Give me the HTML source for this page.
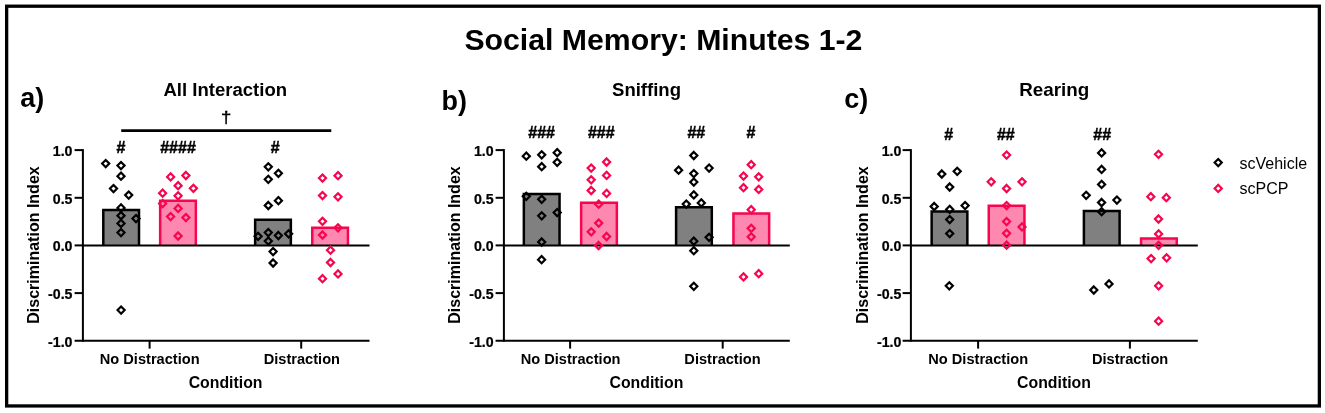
<!DOCTYPE html>
<html><head><meta charset="utf-8"><title>Social Memory: Minutes 1-2</title>
<style>
html,body{margin:0;padding:0;background:#fff;}
body{width:1325px;height:413px;overflow:hidden;}
svg{display:block;will-change:transform;}
.sg{stroke:#000;stroke-width:0.45px;}
.tk{stroke:#000;stroke-width:0.25px;}
text{font-family:"Liberation Sans",sans-serif;fill:#000;}
.b{font-weight:bold;}
</style></head><body>
<svg width="1325" height="413" viewBox="0 0 1325 413">
<rect x="0" y="0" width="1325" height="413" fill="#fff"/>
<g>
<rect x="6.65" y="6.2" width="1312.7" height="399.75" fill="none" stroke="#000" stroke-width="3.3"/>
<text class="b" font-size="30.3" text-anchor="middle" transform="translate(663.40 49.60) scale(0.9980 1)">Social Memory: Minutes 1-2</text>
<g>
<text class="b" font-size="28.2" text-anchor="start" transform="translate(20.30 107.40) scale(0.9560 1)">a)</text>
<text class="b" font-size="18" text-anchor="middle" transform="translate(225.25 95.60) scale(1.0300 1)">All Interaction</text>
<text class="b" font-size="16" text-anchor="middle" transform="translate(39.30 245.00) rotate(-90)">Discrimination Index</text>
<path d="M103.30 245.90V210.05H139.00V245.90" fill="#808080" stroke="#000" stroke-width="2.5" stroke-linejoin="miter"/>
<path d="M160.15 245.90V200.75H195.85V245.90" fill="#FF88B1" stroke="#F5064E" stroke-width="2.5" stroke-linejoin="miter"/>
<path d="M255.15 245.90V219.65H290.85V245.90" fill="#808080" stroke="#000" stroke-width="2.5" stroke-linejoin="miter"/>
<path d="M312.25 245.90V227.75H347.95V245.90" fill="#FF88B1" stroke="#F5064E" stroke-width="2.5" stroke-linejoin="miter"/>
<path d="M82.9 149.1V341.7" stroke="#000" stroke-width="2" fill="none"/>
<path d="M74.6 340.7H369.5" stroke="#000" stroke-width="2" fill="none"/>
<path d="M82.9 245.4H369.5" stroke="#000" stroke-width="2" fill="none"/>
<path d="M74.6 150.1H82.9" stroke="#000" stroke-width="2" fill="none"/>
<text class="b tk" font-size="15.1" text-anchor="end" transform="translate(72.50 155.90) scale(0.9400 1)">1.0</text>
<path d="M74.6 197.8H82.9" stroke="#000" stroke-width="2" fill="none"/>
<text class="b tk" font-size="15.1" text-anchor="end" transform="translate(72.50 203.55) scale(0.9400 1)">0.5</text>
<path d="M74.6 245.4H82.9" stroke="#000" stroke-width="2" fill="none"/>
<text class="b tk" font-size="15.1" text-anchor="end" transform="translate(72.50 251.20) scale(0.9400 1)">0.0</text>
<path d="M74.6 293.1H82.9" stroke="#000" stroke-width="2" fill="none"/>
<text class="b tk" font-size="15.1" text-anchor="end" transform="translate(72.50 298.85) scale(0.9400 1)">-0.5</text>
<text class="b tk" font-size="15.1" text-anchor="end" transform="translate(72.50 346.50) scale(0.9400 1)">-1.0</text>
<path d="M149.6 340.7V348.6" stroke="#000" stroke-width="2" fill="none"/>
<path d="M301.2 340.7V348.6" stroke="#000" stroke-width="2" fill="none"/>
<text class="b" font-size="14" text-anchor="middle" transform="translate(149.70 364.00) scale(1.0450 1)">No Distraction</text>
<text class="b" font-size="14" text-anchor="middle" transform="translate(301.85 364.00) scale(1.0450 1)">Distraction</text>
<text class="b" font-size="16" text-anchor="middle" transform="translate(225.60 388.20) scale(0.9900 1)">Condition</text>
<text class="b sg" font-size="16" text-anchor="middle" transform="translate(121.00 153.30)">#</text>
<text class="b sg" font-size="16" text-anchor="middle" transform="translate(178.00 153.30)">####</text>
<text class="b sg" font-size="16" text-anchor="middle" transform="translate(275.10 153.30)">#</text>
<path d="M105.70 160.00L109.25 163.60L105.70 167.20L102.15 163.60Z" fill="none" stroke="#000" stroke-width="2.2" stroke-linejoin="miter"/>
<path d="M121.00 162.00L124.55 165.60L121.00 169.20L117.45 165.60Z" fill="none" stroke="#000" stroke-width="2.2" stroke-linejoin="miter"/>
<path d="M121.00 172.60L124.55 176.20L121.00 179.80L117.45 176.20Z" fill="none" stroke="#000" stroke-width="2.2" stroke-linejoin="miter"/>
<path d="M113.50 185.00L117.05 188.60L113.50 192.20L109.95 188.60Z" fill="none" stroke="#000" stroke-width="2.2" stroke-linejoin="miter"/>
<path d="M128.70 191.50L132.25 195.10L128.70 198.70L125.15 195.10Z" fill="none" stroke="#000" stroke-width="2.2" stroke-linejoin="miter"/>
<path d="M121.00 204.30L124.55 207.90L121.00 211.50L117.45 207.90Z" fill="none" stroke="#000" stroke-width="2.2" stroke-linejoin="miter"/>
<path d="M121.00 212.10L124.55 215.70L121.00 219.30L117.45 215.70Z" fill="none" stroke="#000" stroke-width="2.2" stroke-linejoin="miter"/>
<path d="M136.00 215.00L139.55 218.60L136.00 222.20L132.45 218.60Z" fill="none" stroke="#000" stroke-width="2.2" stroke-linejoin="miter"/>
<path d="M121.00 219.80L124.55 223.40L121.00 227.00L117.45 223.40Z" fill="none" stroke="#000" stroke-width="2.2" stroke-linejoin="miter"/>
<path d="M121.00 229.00L124.55 232.60L121.00 236.20L117.45 232.60Z" fill="none" stroke="#000" stroke-width="2.2" stroke-linejoin="miter"/>
<path d="M121.10 306.50L124.65 310.10L121.10 313.70L117.55 310.10Z" fill="none" stroke="#000" stroke-width="2.2" stroke-linejoin="miter"/>
<path d="M170.60 173.30L174.15 176.90L170.60 180.50L167.05 176.90Z" fill="none" stroke="#F5064E" stroke-width="2.2" stroke-linejoin="miter"/>
<path d="M185.90 171.90L189.45 175.50L185.90 179.10L182.35 175.50Z" fill="none" stroke="#F5064E" stroke-width="2.2" stroke-linejoin="miter"/>
<path d="M178.10 182.10L181.65 185.70L178.10 189.30L174.55 185.70Z" fill="none" stroke="#F5064E" stroke-width="2.2" stroke-linejoin="miter"/>
<path d="M193.40 184.70L196.95 188.30L193.40 191.90L189.85 188.30Z" fill="none" stroke="#F5064E" stroke-width="2.2" stroke-linejoin="miter"/>
<path d="M162.60 189.60L166.15 193.20L162.60 196.80L159.05 193.20Z" fill="none" stroke="#F5064E" stroke-width="2.2" stroke-linejoin="miter"/>
<path d="M178.10 192.20L181.65 195.80L178.10 199.40L174.55 195.80Z" fill="none" stroke="#F5064E" stroke-width="2.2" stroke-linejoin="miter"/>
<path d="M162.60 200.00L166.15 203.60L162.60 207.20L159.05 203.60Z" fill="none" stroke="#F5064E" stroke-width="2.2" stroke-linejoin="miter"/>
<path d="M178.10 204.80L181.65 208.40L178.10 212.00L174.55 208.40Z" fill="none" stroke="#F5064E" stroke-width="2.2" stroke-linejoin="miter"/>
<path d="M170.60 213.00L174.15 216.60L170.60 220.20L167.05 216.60Z" fill="none" stroke="#F5064E" stroke-width="2.2" stroke-linejoin="miter"/>
<path d="M185.90 214.00L189.45 217.60L185.90 221.20L182.35 217.60Z" fill="none" stroke="#F5064E" stroke-width="2.2" stroke-linejoin="miter"/>
<path d="M178.10 232.40L181.65 236.00L178.10 239.60L174.55 236.00Z" fill="none" stroke="#F5064E" stroke-width="2.2" stroke-linejoin="miter"/>
<path d="M268.30 163.20L271.85 166.80L268.30 170.40L264.75 166.80Z" fill="none" stroke="#000" stroke-width="2.2" stroke-linejoin="miter"/>
<path d="M278.40 169.70L281.95 173.30L278.40 176.90L274.85 173.30Z" fill="none" stroke="#000" stroke-width="2.2" stroke-linejoin="miter"/>
<path d="M268.30 175.70L271.85 179.30L268.30 182.90L264.75 179.30Z" fill="none" stroke="#000" stroke-width="2.2" stroke-linejoin="miter"/>
<path d="M278.40 197.10L281.95 200.70L278.40 204.30L274.85 200.70Z" fill="none" stroke="#000" stroke-width="2.2" stroke-linejoin="miter"/>
<path d="M268.30 201.90L271.85 205.50L268.30 209.10L264.75 205.50Z" fill="none" stroke="#000" stroke-width="2.2" stroke-linejoin="miter"/>
<path d="M268.30 229.00L271.85 232.60L268.30 236.20L264.75 232.60Z" fill="none" stroke="#000" stroke-width="2.2" stroke-linejoin="miter"/>
<path d="M258.10 232.70L261.65 236.30L258.10 239.90L254.55 236.30Z" fill="none" stroke="#000" stroke-width="2.2" stroke-linejoin="miter"/>
<path d="M278.40 231.90L281.95 235.50L278.40 239.10L274.85 235.50Z" fill="none" stroke="#000" stroke-width="2.2" stroke-linejoin="miter"/>
<path d="M288.60 230.20L292.15 233.80L288.60 237.40L285.05 233.80Z" fill="none" stroke="#000" stroke-width="2.2" stroke-linejoin="miter"/>
<path d="M268.30 237.50L271.85 241.10L268.30 244.70L264.75 241.10Z" fill="none" stroke="#000" stroke-width="2.2" stroke-linejoin="miter"/>
<path d="M273.10 248.00L276.65 251.60L273.10 255.20L269.55 251.60Z" fill="none" stroke="#000" stroke-width="2.2" stroke-linejoin="miter"/>
<path d="M273.10 259.40L276.65 263.00L273.10 266.60L269.55 263.00Z" fill="none" stroke="#000" stroke-width="2.2" stroke-linejoin="miter"/>
<path d="M322.50 174.50L326.05 178.10L322.50 181.70L318.95 178.10Z" fill="none" stroke="#F5064E" stroke-width="2.2" stroke-linejoin="miter"/>
<path d="M338.00 172.10L341.55 175.70L338.00 179.30L334.45 175.70Z" fill="none" stroke="#F5064E" stroke-width="2.2" stroke-linejoin="miter"/>
<path d="M322.50 192.00L326.05 195.60L322.50 199.20L318.95 195.60Z" fill="none" stroke="#F5064E" stroke-width="2.2" stroke-linejoin="miter"/>
<path d="M338.00 193.20L341.55 196.80L338.00 200.40L334.45 196.80Z" fill="none" stroke="#F5064E" stroke-width="2.2" stroke-linejoin="miter"/>
<path d="M322.50 217.70L326.05 221.30L322.50 224.90L318.95 221.30Z" fill="none" stroke="#F5064E" stroke-width="2.2" stroke-linejoin="miter"/>
<path d="M338.00 224.20L341.55 227.80L338.00 231.40L334.45 227.80Z" fill="none" stroke="#F5064E" stroke-width="2.2" stroke-linejoin="miter"/>
<path d="M322.50 231.40L326.05 235.00L322.50 238.60L318.95 235.00Z" fill="none" stroke="#F5064E" stroke-width="2.2" stroke-linejoin="miter"/>
<path d="M330.50 246.60L334.05 250.20L330.50 253.80L326.95 250.20Z" fill="none" stroke="#F5064E" stroke-width="2.2" stroke-linejoin="miter"/>
<path d="M330.50 258.90L334.05 262.50L330.50 266.10L326.95 262.50Z" fill="none" stroke="#F5064E" stroke-width="2.2" stroke-linejoin="miter"/>
<path d="M338.00 270.30L341.55 273.90L338.00 277.50L334.45 273.90Z" fill="none" stroke="#F5064E" stroke-width="2.2" stroke-linejoin="miter"/>
<path d="M322.50 275.10L326.05 278.70L322.50 282.30L318.95 278.70Z" fill="none" stroke="#F5064E" stroke-width="2.2" stroke-linejoin="miter"/>
</g>
<g>
<text class="b" font-size="28.2" text-anchor="start" transform="translate(441.60 109.50) scale(0.9560 1)">b)</text>
<text class="b" font-size="18" text-anchor="middle" transform="translate(646.50 95.60) scale(1.0300 1)">Sniffing</text>
<text class="b" font-size="16" text-anchor="middle" transform="translate(459.60 245.00) rotate(-90)">Discrimination Index</text>
<path d="M523.85 245.90V193.95H559.55V245.90" fill="#808080" stroke="#000" stroke-width="2.5" stroke-linejoin="miter"/>
<path d="M581.15 245.90V202.75H616.85V245.90" fill="#FF88B1" stroke="#F5064E" stroke-width="2.5" stroke-linejoin="miter"/>
<path d="M676.10 245.90V207.15H711.80V245.90" fill="#808080" stroke="#000" stroke-width="2.5" stroke-linejoin="miter"/>
<path d="M733.45 245.90V213.55H769.15V245.90" fill="#FF88B1" stroke="#F5064E" stroke-width="2.5" stroke-linejoin="miter"/>
<path d="M503.9 149.1V341.7" stroke="#000" stroke-width="2" fill="none"/>
<path d="M495.6 340.7H789.8" stroke="#000" stroke-width="2" fill="none"/>
<path d="M503.9 245.4H789.8" stroke="#000" stroke-width="2" fill="none"/>
<path d="M495.6 150.1H503.9" stroke="#000" stroke-width="2" fill="none"/>
<text class="b tk" font-size="15.1" text-anchor="end" transform="translate(493.70 155.90) scale(0.9400 1)">1.0</text>
<path d="M495.6 197.8H503.9" stroke="#000" stroke-width="2" fill="none"/>
<text class="b tk" font-size="15.1" text-anchor="end" transform="translate(493.70 203.55) scale(0.9400 1)">0.5</text>
<path d="M495.6 245.4H503.9" stroke="#000" stroke-width="2" fill="none"/>
<text class="b tk" font-size="15.1" text-anchor="end" transform="translate(493.70 251.20) scale(0.9400 1)">0.0</text>
<path d="M495.6 293.1H503.9" stroke="#000" stroke-width="2" fill="none"/>
<text class="b tk" font-size="15.1" text-anchor="end" transform="translate(493.70 298.85) scale(0.9400 1)">-0.5</text>
<text class="b tk" font-size="15.1" text-anchor="end" transform="translate(493.70 346.50) scale(0.9400 1)">-1.0</text>
<path d="M570.1 340.7V348.6" stroke="#000" stroke-width="2" fill="none"/>
<path d="M722.7 340.7V348.6" stroke="#000" stroke-width="2" fill="none"/>
<text class="b" font-size="14" text-anchor="middle" transform="translate(570.60 364.00) scale(1.0450 1)">No Distraction</text>
<text class="b" font-size="14" text-anchor="middle" transform="translate(722.50 364.00) scale(1.0450 1)">Distraction</text>
<text class="b" font-size="16" text-anchor="middle" transform="translate(646.40 388.20) scale(0.9900 1)">Condition</text>
<text class="b sg" font-size="16" text-anchor="middle" transform="translate(541.60 138.40)">###</text>
<text class="b sg" font-size="16" text-anchor="middle" transform="translate(601.30 138.40)">###</text>
<text class="b sg" font-size="16" text-anchor="middle" transform="translate(696.30 138.40)">##</text>
<text class="b sg" font-size="16" text-anchor="middle" transform="translate(751.00 138.40)">#</text>
<path d="M526.30 152.60L529.85 156.20L526.30 159.80L522.75 156.20Z" fill="none" stroke="#000" stroke-width="2.2" stroke-linejoin="miter"/>
<path d="M541.70 151.20L545.25 154.80L541.70 158.40L538.15 154.80Z" fill="none" stroke="#000" stroke-width="2.2" stroke-linejoin="miter"/>
<path d="M557.20 149.10L560.75 152.70L557.20 156.30L553.65 152.70Z" fill="none" stroke="#000" stroke-width="2.2" stroke-linejoin="miter"/>
<path d="M557.20 158.70L560.75 162.30L557.20 165.90L553.65 162.30Z" fill="none" stroke="#000" stroke-width="2.2" stroke-linejoin="miter"/>
<path d="M541.70 163.10L545.25 166.70L541.70 170.30L538.15 166.70Z" fill="none" stroke="#000" stroke-width="2.2" stroke-linejoin="miter"/>
<path d="M526.30 192.70L529.85 196.30L526.30 199.90L522.75 196.30Z" fill="none" stroke="#000" stroke-width="2.2" stroke-linejoin="miter"/>
<path d="M541.70 195.70L545.25 199.30L541.70 202.90L538.15 199.30Z" fill="none" stroke="#000" stroke-width="2.2" stroke-linejoin="miter"/>
<path d="M557.20 209.00L560.75 212.60L557.20 216.20L553.65 212.60Z" fill="none" stroke="#000" stroke-width="2.2" stroke-linejoin="miter"/>
<path d="M541.70 212.20L545.25 215.80L541.70 219.40L538.15 215.80Z" fill="none" stroke="#000" stroke-width="2.2" stroke-linejoin="miter"/>
<path d="M541.70 238.40L545.25 242.00L541.70 245.60L538.15 242.00Z" fill="none" stroke="#000" stroke-width="2.2" stroke-linejoin="miter"/>
<path d="M541.60 256.10L545.15 259.70L541.60 263.30L538.05 259.70Z" fill="none" stroke="#000" stroke-width="2.2" stroke-linejoin="miter"/>
<path d="M606.60 158.40L610.15 162.00L606.60 165.60L603.05 162.00Z" fill="none" stroke="#F5064E" stroke-width="2.2" stroke-linejoin="miter"/>
<path d="M591.20 164.50L594.75 168.10L591.20 171.70L587.65 168.10Z" fill="none" stroke="#F5064E" stroke-width="2.2" stroke-linejoin="miter"/>
<path d="M606.60 171.80L610.15 175.40L606.60 179.00L603.05 175.40Z" fill="none" stroke="#F5064E" stroke-width="2.2" stroke-linejoin="miter"/>
<path d="M591.20 176.20L594.75 179.80L591.20 183.40L587.65 179.80Z" fill="none" stroke="#F5064E" stroke-width="2.2" stroke-linejoin="miter"/>
<path d="M591.20 186.90L594.75 190.50L591.20 194.10L587.65 190.50Z" fill="none" stroke="#F5064E" stroke-width="2.2" stroke-linejoin="miter"/>
<path d="M606.60 189.80L610.15 193.40L606.60 197.00L603.05 193.40Z" fill="none" stroke="#F5064E" stroke-width="2.2" stroke-linejoin="miter"/>
<path d="M598.70 200.60L602.25 204.20L598.70 207.80L595.15 204.20Z" fill="none" stroke="#F5064E" stroke-width="2.2" stroke-linejoin="miter"/>
<path d="M598.70 219.50L602.25 223.10L598.70 226.70L595.15 223.10Z" fill="none" stroke="#F5064E" stroke-width="2.2" stroke-linejoin="miter"/>
<path d="M591.20 228.20L594.75 231.80L591.20 235.40L587.65 231.80Z" fill="none" stroke="#F5064E" stroke-width="2.2" stroke-linejoin="miter"/>
<path d="M606.60 232.90L610.15 236.50L606.60 240.10L603.05 236.50Z" fill="none" stroke="#F5064E" stroke-width="2.2" stroke-linejoin="miter"/>
<path d="M598.60 241.90L602.15 245.50L598.60 249.10L595.05 245.50Z" fill="none" stroke="#F5064E" stroke-width="2.2" stroke-linejoin="miter"/>
<path d="M693.80 151.90L697.35 155.50L693.80 159.10L690.25 155.50Z" fill="none" stroke="#000" stroke-width="2.2" stroke-linejoin="miter"/>
<path d="M678.60 166.60L682.15 170.20L678.60 173.80L675.05 170.20Z" fill="none" stroke="#000" stroke-width="2.2" stroke-linejoin="miter"/>
<path d="M709.10 164.50L712.65 168.10L709.10 171.70L705.55 168.10Z" fill="none" stroke="#000" stroke-width="2.2" stroke-linejoin="miter"/>
<path d="M693.80 170.00L697.35 173.60L693.80 177.20L690.25 173.60Z" fill="none" stroke="#000" stroke-width="2.2" stroke-linejoin="miter"/>
<path d="M693.80 178.50L697.35 182.10L693.80 185.70L690.25 182.10Z" fill="none" stroke="#000" stroke-width="2.2" stroke-linejoin="miter"/>
<path d="M693.80 191.30L697.35 194.90L693.80 198.50L690.25 194.90Z" fill="none" stroke="#000" stroke-width="2.2" stroke-linejoin="miter"/>
<path d="M686.30 200.50L689.85 204.10L686.30 207.70L682.75 204.10Z" fill="none" stroke="#000" stroke-width="2.2" stroke-linejoin="miter"/>
<path d="M701.30 199.30L704.85 202.90L701.30 206.50L697.75 202.90Z" fill="none" stroke="#000" stroke-width="2.2" stroke-linejoin="miter"/>
<path d="M709.10 233.70L712.65 237.30L709.10 240.90L705.55 237.30Z" fill="none" stroke="#000" stroke-width="2.2" stroke-linejoin="miter"/>
<path d="M693.80 237.60L697.35 241.20L693.80 244.80L690.25 241.20Z" fill="none" stroke="#000" stroke-width="2.2" stroke-linejoin="miter"/>
<path d="M693.80 247.10L697.35 250.70L693.80 254.30L690.25 250.70Z" fill="none" stroke="#000" stroke-width="2.2" stroke-linejoin="miter"/>
<path d="M693.80 282.70L697.35 286.30L693.80 289.90L690.25 286.30Z" fill="none" stroke="#000" stroke-width="2.2" stroke-linejoin="miter"/>
<path d="M751.20 161.10L754.75 164.70L751.20 168.30L747.65 164.70Z" fill="none" stroke="#F5064E" stroke-width="2.2" stroke-linejoin="miter"/>
<path d="M743.50 172.50L747.05 176.10L743.50 179.70L739.95 176.10Z" fill="none" stroke="#F5064E" stroke-width="2.2" stroke-linejoin="miter"/>
<path d="M758.70 173.20L762.25 176.80L758.70 180.40L755.15 176.80Z" fill="none" stroke="#F5064E" stroke-width="2.2" stroke-linejoin="miter"/>
<path d="M743.50 184.10L747.05 187.70L743.50 191.30L739.95 187.70Z" fill="none" stroke="#F5064E" stroke-width="2.2" stroke-linejoin="miter"/>
<path d="M758.70 185.80L762.25 189.40L758.70 193.00L755.15 189.40Z" fill="none" stroke="#F5064E" stroke-width="2.2" stroke-linejoin="miter"/>
<path d="M751.20 206.10L754.75 209.70L751.20 213.30L747.65 209.70Z" fill="none" stroke="#F5064E" stroke-width="2.2" stroke-linejoin="miter"/>
<path d="M751.20 224.70L754.75 228.30L751.20 231.90L747.65 228.30Z" fill="none" stroke="#F5064E" stroke-width="2.2" stroke-linejoin="miter"/>
<path d="M751.20 233.20L754.75 236.80L751.20 240.40L747.65 236.80Z" fill="none" stroke="#F5064E" stroke-width="2.2" stroke-linejoin="miter"/>
<path d="M743.50 273.30L747.05 276.90L743.50 280.50L739.95 276.90Z" fill="none" stroke="#F5064E" stroke-width="2.2" stroke-linejoin="miter"/>
<path d="M758.70 270.10L762.25 273.70L758.70 277.30L755.15 273.70Z" fill="none" stroke="#F5064E" stroke-width="2.2" stroke-linejoin="miter"/>
</g>
<g>
<text class="b" font-size="28.2" text-anchor="start" transform="translate(844.30 108.30) scale(0.9560 1)">c)</text>
<text class="b" font-size="18" text-anchor="middle" transform="translate(1054.15 95.60) scale(1.0450 1)">Rearing</text>
<text class="b" font-size="16" text-anchor="middle" transform="translate(867.60 245.00) rotate(-90)">Discrimination Index</text>
<path d="M931.65 245.90V211.45H967.35V245.90" fill="#808080" stroke="#000" stroke-width="2.5" stroke-linejoin="miter"/>
<path d="M988.75 245.90V205.65H1024.45V245.90" fill="#FF88B1" stroke="#F5064E" stroke-width="2.5" stroke-linejoin="miter"/>
<path d="M1083.90 245.90V211.05H1119.60V245.90" fill="#808080" stroke="#000" stroke-width="2.5" stroke-linejoin="miter"/>
<path d="M1141.05 245.90V238.45H1176.75V245.90" fill="#FF88B1" stroke="#F5064E" stroke-width="2.5" stroke-linejoin="miter"/>
<path d="M910.9 149.1V341.7" stroke="#000" stroke-width="2" fill="none"/>
<path d="M902.6 340.7H1197.8" stroke="#000" stroke-width="2" fill="none"/>
<path d="M910.9 245.4H1197.8" stroke="#000" stroke-width="2" fill="none"/>
<path d="M902.6 150.1H910.9" stroke="#000" stroke-width="2" fill="none"/>
<text class="b tk" font-size="15.1" text-anchor="end" transform="translate(901.40 155.90) scale(0.9400 1)">1.0</text>
<path d="M902.6 197.8H910.9" stroke="#000" stroke-width="2" fill="none"/>
<text class="b tk" font-size="15.1" text-anchor="end" transform="translate(901.40 203.55) scale(0.9400 1)">0.5</text>
<path d="M902.6 245.4H910.9" stroke="#000" stroke-width="2" fill="none"/>
<text class="b tk" font-size="15.1" text-anchor="end" transform="translate(901.40 251.20) scale(0.9400 1)">0.0</text>
<path d="M902.6 293.1H910.9" stroke="#000" stroke-width="2" fill="none"/>
<text class="b tk" font-size="15.1" text-anchor="end" transform="translate(901.40 298.85) scale(0.9400 1)">-0.5</text>
<text class="b tk" font-size="15.1" text-anchor="end" transform="translate(901.40 346.50) scale(0.9400 1)">-1.0</text>
<path d="M978.1 340.7V348.6" stroke="#000" stroke-width="2" fill="none"/>
<path d="M1129.9 340.7V348.6" stroke="#000" stroke-width="2" fill="none"/>
<text class="b" font-size="14" text-anchor="middle" transform="translate(978.20 364.00) scale(1.0450 1)">No Distraction</text>
<text class="b" font-size="14" text-anchor="middle" transform="translate(1130.10 364.00) scale(1.0450 1)">Distraction</text>
<text class="b" font-size="16" text-anchor="middle" transform="translate(1054.01 388.20) scale(0.9900 1)">Condition</text>
<text class="b sg" font-size="16" text-anchor="middle" transform="translate(948.80 139.50)">#</text>
<text class="b sg" font-size="16" text-anchor="middle" transform="translate(1005.80 139.50)">##</text>
<text class="b sg" font-size="16" text-anchor="middle" transform="translate(1102.20 139.50)">##</text>
<path d="M941.80 170.40L945.35 174.00L941.80 177.60L938.25 174.00Z" fill="none" stroke="#000" stroke-width="2.2" stroke-linejoin="miter"/>
<path d="M957.20 167.70L960.75 171.30L957.20 174.90L953.65 171.30Z" fill="none" stroke="#000" stroke-width="2.2" stroke-linejoin="miter"/>
<path d="M949.70 183.40L953.25 187.00L949.70 190.60L946.15 187.00Z" fill="none" stroke="#000" stroke-width="2.2" stroke-linejoin="miter"/>
<path d="M934.20 202.90L937.75 206.50L934.20 210.10L930.65 206.50Z" fill="none" stroke="#000" stroke-width="2.2" stroke-linejoin="miter"/>
<path d="M949.70 205.80L953.25 209.40L949.70 213.00L946.15 209.40Z" fill="none" stroke="#000" stroke-width="2.2" stroke-linejoin="miter"/>
<path d="M965.10 202.00L968.65 205.60L965.10 209.20L961.55 205.60Z" fill="none" stroke="#000" stroke-width="2.2" stroke-linejoin="miter"/>
<path d="M949.70 216.00L953.25 219.60L949.70 223.20L946.15 219.60Z" fill="none" stroke="#000" stroke-width="2.2" stroke-linejoin="miter"/>
<path d="M949.70 230.00L953.25 233.60L949.70 237.20L946.15 233.60Z" fill="none" stroke="#000" stroke-width="2.2" stroke-linejoin="miter"/>
<path d="M949.30 282.20L952.85 285.80L949.30 289.40L945.75 285.80Z" fill="none" stroke="#000" stroke-width="2.2" stroke-linejoin="miter"/>
<path d="M1006.60 151.50L1010.15 155.10L1006.60 158.70L1003.05 155.10Z" fill="none" stroke="#F5064E" stroke-width="2.2" stroke-linejoin="miter"/>
<path d="M991.20 178.20L994.75 181.80L991.20 185.40L987.65 181.80Z" fill="none" stroke="#F5064E" stroke-width="2.2" stroke-linejoin="miter"/>
<path d="M1022.00 178.20L1025.55 181.80L1022.00 185.40L1018.45 181.80Z" fill="none" stroke="#F5064E" stroke-width="2.2" stroke-linejoin="miter"/>
<path d="M1006.60 184.90L1010.15 188.50L1006.60 192.10L1003.05 188.50Z" fill="none" stroke="#F5064E" stroke-width="2.2" stroke-linejoin="miter"/>
<path d="M1006.60 202.00L1010.15 205.60L1006.60 209.20L1003.05 205.60Z" fill="none" stroke="#F5064E" stroke-width="2.2" stroke-linejoin="miter"/>
<path d="M1006.60 218.00L1010.15 221.60L1006.60 225.20L1003.05 221.60Z" fill="none" stroke="#F5064E" stroke-width="2.2" stroke-linejoin="miter"/>
<path d="M1022.00 223.30L1025.55 226.90L1022.00 230.50L1018.45 226.90Z" fill="none" stroke="#F5064E" stroke-width="2.2" stroke-linejoin="miter"/>
<path d="M1006.60 229.70L1010.15 233.30L1006.60 236.90L1003.05 233.30Z" fill="none" stroke="#F5064E" stroke-width="2.2" stroke-linejoin="miter"/>
<path d="M1006.60 241.60L1010.15 245.20L1006.60 248.80L1003.05 245.20Z" fill="none" stroke="#F5064E" stroke-width="2.2" stroke-linejoin="miter"/>
<path d="M1101.60 149.30L1105.15 152.90L1101.60 156.50L1098.05 152.90Z" fill="none" stroke="#000" stroke-width="2.2" stroke-linejoin="miter"/>
<path d="M1101.60 165.80L1105.15 169.40L1101.60 173.00L1098.05 169.40Z" fill="none" stroke="#000" stroke-width="2.2" stroke-linejoin="miter"/>
<path d="M1101.60 180.80L1105.15 184.40L1101.60 188.00L1098.05 184.40Z" fill="none" stroke="#000" stroke-width="2.2" stroke-linejoin="miter"/>
<path d="M1086.20 191.70L1089.75 195.30L1086.20 198.90L1082.65 195.30Z" fill="none" stroke="#000" stroke-width="2.2" stroke-linejoin="miter"/>
<path d="M1116.90 196.50L1120.45 200.10L1116.90 203.70L1113.35 200.10Z" fill="none" stroke="#000" stroke-width="2.2" stroke-linejoin="miter"/>
<path d="M1101.60 198.90L1105.15 202.50L1101.60 206.10L1098.05 202.50Z" fill="none" stroke="#000" stroke-width="2.2" stroke-linejoin="miter"/>
<path d="M1101.60 208.10L1105.15 211.70L1101.60 215.30L1098.05 211.70Z" fill="none" stroke="#000" stroke-width="2.2" stroke-linejoin="miter"/>
<path d="M1093.80 286.40L1097.35 290.00L1093.80 293.60L1090.25 290.00Z" fill="none" stroke="#000" stroke-width="2.2" stroke-linejoin="miter"/>
<path d="M1109.00 280.30L1112.55 283.90L1109.00 287.50L1105.45 283.90Z" fill="none" stroke="#000" stroke-width="2.2" stroke-linejoin="miter"/>
<path d="M1158.50 150.70L1162.05 154.30L1158.50 157.90L1154.95 154.30Z" fill="none" stroke="#F5064E" stroke-width="2.2" stroke-linejoin="miter"/>
<path d="M1150.80 193.10L1154.35 196.70L1150.80 200.30L1147.25 196.70Z" fill="none" stroke="#F5064E" stroke-width="2.2" stroke-linejoin="miter"/>
<path d="M1166.30 194.10L1169.85 197.70L1166.30 201.30L1162.75 197.70Z" fill="none" stroke="#F5064E" stroke-width="2.2" stroke-linejoin="miter"/>
<path d="M1158.50 215.40L1162.05 219.00L1158.50 222.60L1154.95 219.00Z" fill="none" stroke="#F5064E" stroke-width="2.2" stroke-linejoin="miter"/>
<path d="M1158.60 230.30L1162.15 233.90L1158.60 237.50L1155.05 233.90Z" fill="none" stroke="#F5064E" stroke-width="2.2" stroke-linejoin="miter"/>
<path d="M1158.60 241.70L1162.15 245.30L1158.60 248.90L1155.05 245.30Z" fill="none" stroke="#F5064E" stroke-width="2.2" stroke-linejoin="miter"/>
<path d="M1151.10 255.00L1154.65 258.60L1151.10 262.20L1147.55 258.60Z" fill="none" stroke="#F5064E" stroke-width="2.2" stroke-linejoin="miter"/>
<path d="M1166.60 254.20L1170.15 257.80L1166.60 261.40L1163.05 257.80Z" fill="none" stroke="#F5064E" stroke-width="2.2" stroke-linejoin="miter"/>
<path d="M1158.60 282.20L1162.15 285.80L1158.60 289.40L1155.05 285.80Z" fill="none" stroke="#F5064E" stroke-width="2.2" stroke-linejoin="miter"/>
<path d="M1158.60 317.60L1162.15 321.20L1158.60 324.80L1155.05 321.20Z" fill="none" stroke="#F5064E" stroke-width="2.2" stroke-linejoin="miter"/>
</g>
<path d="M121.2 130.6H331.3" stroke="#000" stroke-width="2.6" fill="none"/>
<text class="sg" font-size="17.2" text-anchor="middle" transform="translate(226.20 123.40) scale(1.0800 1)">&#8224;</text>
<path d="M1218.20 159.00L1221.75 162.60L1218.20 166.20L1214.65 162.60Z" fill="none" stroke="#000" stroke-width="2.2" stroke-linejoin="miter"/>
<path d="M1218.20 184.80L1221.75 188.40L1218.20 192.00L1214.65 188.40Z" fill="none" stroke="#F5064E" stroke-width="2.2" stroke-linejoin="miter"/>
<text font-size="16" text-anchor="start" transform="translate(1239.50 168.60)">scVehicle</text>
<text font-size="16" text-anchor="start" transform="translate(1239.50 194.20)">scPCP</text>
</g>
</svg></body></html>
